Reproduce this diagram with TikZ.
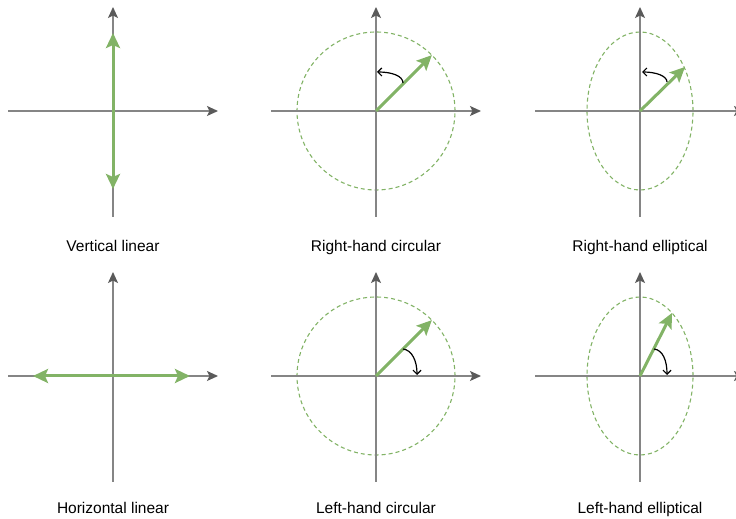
\documentclass[tikz,border=0pt]{standalone}
\usepackage{fontspec}
\setmainfont{Liberation Sans}
\usetikzlibrary{arrows.meta}

\definecolor{axisgray}{HTML}{858585}
\definecolor{tipgray}{HTML}{5A5A5A}
\definecolor{wavegreen}{HTML}{82B366}

\begin{document}
\begin{tikzpicture}[x=1pt,y=1pt,
  axis/.style={draw=axisgray,line width=1.4pt,
    -{Stealth[length=11pt,width=10pt,inset=2.5pt,color=tipgray]}},
  field/.style={draw=wavegreen,line width=3pt,
    -{Stealth[length=15pt,width=14pt,inset=3pt]}},
  twofield/.style={draw=wavegreen,line width=3pt,
    {Stealth[length=15pt,width=14pt,inset=3pt]}-{Stealth[length=15pt,width=14pt,inset=3pt]}},
  trace/.style={draw=wavegreen,line width=1.1pt,dash pattern=on 4pt off 3pt},
  turn/.style={draw=black,line width=1.2pt,-{Straight Barb[length=4pt,width=8pt]}},
  caption/.style={anchor=base,font=\fontsize{15.5}{18}\selectfont}]

\useasboundingbox (0,0) rectangle (736,519);

% Vertical linear
\begin{scope}[shift={(113,408)}]
\coordinate (vl-w) at (-105,0);
\coordinate (vl-e) at (105,0);
\coordinate (vl-s) at (0,-106);
\coordinate (vl-n) at (0,104);
\coordinate (vl-a) at (0,-78);
\coordinate (vl-b) at (0,78);
\draw[axis] (vl-w) -- (vl-e);
\draw[axis] (vl-s) -- (vl-n);
\draw[twofield] (vl-a) -- (vl-b);
\end{scope}

% Right-hand circular
\begin{scope}[shift={(376,408)}]
\coordinate (rc-o) at (0,0);
\coordinate (rc-w) at (-105,0);
\coordinate (rc-e) at (105,0);
\coordinate (rc-s) at (0,-106);
\coordinate (rc-n) at (0,104);
\coordinate (rc-tip) at (45:79);
\coordinate (rc-from) at (27,28);
\coordinate (rc-to) at (1,39);
\draw[trace] (rc-o) circle[radius=79];
\draw[axis] (rc-w) -- (rc-e);
\draw[axis] (rc-s) -- (rc-n);
\draw[field] (rc-o) -- (rc-tip);
\draw[turn] (rc-from) .. controls (27,35) and (16,39) .. (rc-to);
\end{scope}

% Right-hand elliptical
\begin{scope}[shift={(640,408)}]
\coordinate (re-o) at (0,0);
\coordinate (re-w) at (-105,0);
\coordinate (re-e) at (105,0);
\coordinate (re-s) at (0,-106);
\coordinate (re-n) at (0,104);
\coordinate (re-tip) at (45,44);
\coordinate (re-from) at (27,29);
\coordinate (re-to) at (2,39);
\draw[trace] (re-o) ellipse[x radius=53,y radius=79];
\draw[axis] (re-w) -- (re-e);
\draw[axis] (re-s) -- (re-n);
\draw[field] (re-o) -- (re-tip);
\draw[turn] (re-from) .. controls (27,35) and (16,39) .. (re-to);
\end{scope}

% Horizontal linear
\begin{scope}[shift={(113,143)}]
\coordinate (hl-w) at (-105,0);
\coordinate (hl-e) at (105,0);
\coordinate (hl-s) at (0,-106);
\coordinate (hl-n) at (0,104);
\coordinate (hl-a) at (-80,0);
\coordinate (hl-b) at (77,0);
\draw[axis] (hl-w) -- (hl-e);
\draw[axis] (hl-s) -- (hl-n);
\draw[twofield] (hl-a) -- (hl-b);
\end{scope}

% Left-hand circular
\begin{scope}[shift={(376,143)}]
\coordinate (lc-o) at (0,0);
\coordinate (lc-w) at (-105,0);
\coordinate (lc-e) at (105,0);
\coordinate (lc-s) at (0,-106);
\coordinate (lc-n) at (0,104);
\coordinate (lc-tip) at (45:79);
\coordinate (lc-from) at (27,27);
\coordinate (lc-to) at (41,1);
\draw[trace] (lc-o) circle[radius=79];
\draw[axis] (lc-w) -- (lc-e);
\draw[axis] (lc-s) -- (lc-n);
\draw[field] (lc-o) -- (lc-tip);
\draw[turn] (lc-from) .. controls (36,26) and (41,15) .. (lc-to);
\end{scope}

% Left-hand elliptical
\begin{scope}[shift={(640,143)}]
\coordinate (le-o) at (0,0);
\coordinate (le-w) at (-105,0);
\coordinate (le-e) at (105,0);
\coordinate (le-s) at (0,-106);
\coordinate (le-n) at (0,104);
\coordinate (le-tip) at (32,63);
\coordinate (le-from) at (14,27);
\coordinate (le-to) at (27,1);
\draw[trace] (le-o) ellipse[x radius=53,y radius=79];
\draw[axis] (le-w) -- (le-e);
\draw[axis] (le-s) -- (le-n);
\draw[field] (le-o) -- (le-tip);
\draw[turn] (le-from) .. controls (23,26) and (27,15) .. (le-to);
\end{scope}

\node[caption] (vl-label) at (113,267) {Vertical linear};
\node[caption] (rc-label) at (376,267) {Right-hand circular};
\node[caption] (re-label) at (640,267) {Right-hand elliptical};
\node[caption] (hl-label) at (113,5) {Horizontal linear};
\node[caption] (lc-label) at (376,5) {Left-hand circular};
\node[caption] (le-label) at (640,5) {Left-hand elliptical};

\end{tikzpicture}
\end{document}
